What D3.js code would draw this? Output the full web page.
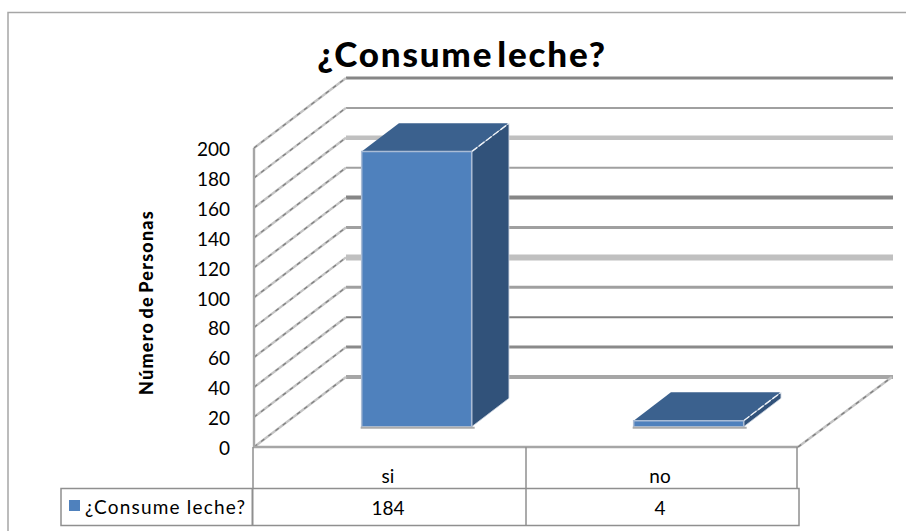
<!DOCTYPE html>
<html>
<head>
<meta charset="utf-8">
<style>
  body { margin: 0; background: #fff; }
  svg { display: block; font-family: Lato, "Open Sans", sans-serif; }
</style>
<script src="https://d3js.org/d3.v7.min.js"></script>
</head>
<body>
<svg width="906" height="531"></svg>
<script>
var categories = ["si", "no"];
var personas = [184, 4];
var yTicks = [0, 20, 40, 60, 80, 100, 120, 140, 160, 180, 200];
var seriesName = "¿Consume leche?";
var chartTitle = "¿Consume leche?";
var yTitle = "Número de Personas";

var svg = d3.select("svg");

var x = d3.scaleBand().domain(categories).range([254, 798]);
var y = d3.scaleLinear().domain([0, 200]).range([447, 148]);

// depth runs 0 (front of floor) to 1 (back wall)
var depthX = d3.scaleLinear().domain([0, 1]).range([0, 92]);
var depthY = d3.scaleLinear().domain([0, 1]).range([0, -70]);
var barFront = 0.29, barBack = 0.695, barWidth = 110;

function pt(px, py, d) { return [px + depthX(d), py + depthY(d)]; }
var poly = d3.line().curve(d3.curveLinearClosed);
var seg = d3.line();

// outer frame, only top and left show
svg.append("path").attr("d", seg([[8, 531], [8, 12.5], [906, 12.5]]))
  .attr("fill", "none").attr("stroke", "#a6a6a6").attr("stroke-width", 1.5);

svg.append("text").attr("x", 462).attr("y", 67).attr("text-anchor", "middle")
  .attr("font-size", 35).attr("font-weight", 900).attr("fill", "#000")
  .attr("letter-spacing", 1.8).attr("word-spacing", -6).text(chartTitle);

// back wall gridlines, weights vary from tick to tick
var gridColor = d3.scaleOrdinal().domain(yTicks)
  .range(["#a6a6a6", "#8a8a8a", "#808080", "#a0a0a0", "#c0c0c0", "#a0a0a0", "#868686", "#a0a0a0", "#c0c0c0", "#a0a0a0", "#868686"]);
var gridWidth = d3.scaleOrdinal().domain(yTicks)
  .range([4, 3, 2, 3, 6, 3, 4, 2, 4.5, 2, 3]);

function roughLine(g, d) {
  g.append("path").attr("d", d).attr("stroke", "#c4c4c4").attr("stroke-width", 2.4).attr("fill", "none");
  g.append("path").attr("d", d).attr("stroke", "#808080").attr("stroke-width", 1.3)
    .attr("stroke-dasharray", "4 5").attr("fill", "none");
}

var grid = svg.append("g");
yTicks.forEach(function(t) {
  var back = pt(254, y(t), 1);
  grid.append("path").attr("d", seg([back, [893, back[1]]]))
    .attr("stroke", gridColor(t)).attr("stroke-width", gridWidth(t)).attr("fill", "none");
  roughLine(grid, seg([[254, y(t)], back]));
});

// floor right edge
roughLine(grid, seg([[798, y(0)], [892, y(0) + depthY(1)]]));

// left wall and floor front edge
svg.append("path").attr("d", seg([[254, y(200)], [254, y(0)], [798, y(0)]]))
  .attr("fill", "none").attr("stroke", "#a6a6a6").attr("stroke-width", 2.4);

// 3d bars
var rows = categories.map(function(c, i) { return { cat: c, val: personas[i] }; });
var bars = svg.append("g").selectAll("g").data(rows).enter().append("g");

function corners(d) {
  var x0 = x(d.cat) + (x.bandwidth() - barWidth) / 2, x1 = x0 + barWidth;
  return { x0: x0, x1: x1, y0: y(0), y1: y(d.val) };
}
// y(v) is measured on the front plane, so lift base and top together
bars.append("path").attr("fill", "#3b618e").attr("d", function(d) {
  var c = corners(d);
  return poly([pt(c.x0, c.y1, barFront), pt(c.x1, c.y1, barFront), pt(c.x1, c.y1, barBack), pt(c.x0, c.y1, barBack)]);
});
bars.append("path").attr("fill", "#31527a").attr("stroke", "#c9d2de").attr("stroke-width", 0.8).attr("d", function(d) {
  var c = corners(d);
  return poly([pt(c.x1, c.y1, barFront), pt(c.x1, c.y1, barBack), pt(c.x1, c.y0, barBack), pt(c.x1, c.y0, barFront)]);
});
bars.append("path").attr("fill", "none").attr("stroke", "#eef2f7").attr("stroke-width", 1.4)
  .attr("stroke-dasharray", "7 2")
  .attr("d", function(d) {
    var c = corners(d);
    return seg([pt(c.x1, c.y1, barFront), pt(c.x1, c.y1, barBack)]);
  });
bars.append("path").attr("fill", "#4f81bd").attr("stroke", "#a9bcd6").attr("stroke-width", 1.5)
  .attr("d", function(d) {
    var c = corners(d);
    return poly([pt(c.x0, c.y1, barFront), pt(c.x1, c.y1, barFront), pt(c.x1, c.y0, barFront), pt(c.x0, c.y0, barFront)]);
  });
bars.append("path").attr("fill", "none").attr("stroke", "#ababab").attr("stroke-width", 2)
  .attr("d", function(d) {
    var c = corners(d);
    return seg([pt(c.x0 - 1, c.y0 + 1, barFront), pt(c.x1 + 3, c.y0 + 1, barFront)]);
  });

// y axis labels
var yAxis = svg.append("g").attr("transform", "translate(230,1.5)")
  .call(d3.axisLeft(y).tickValues(yTicks).tickSize(0).tickPadding(0));
yAxis.select(".domain").remove();
yAxis.selectAll("text").attr("font-family", "Lato").attr("font-size", 19).attr("fill", "#000");

svg.append("text").attr("transform", "translate(153,302.5) rotate(-90)")
  .attr("text-anchor", "middle").attr("font-size", 18).attr("font-weight", 900)
  .attr("letter-spacing", 1.2).attr("word-spacing", -2).text(yTitle);

// data table under the axis
var table = svg.append("g").attr("fill", "none").attr("stroke", "#8f8f8f").attr("stroke-width", 1.5);
var tableLines = [[x.range()[0] - 1, 447, 488], [x("no"), 447, 526], [x.range()[1] - 1, 447, 488]];
tableLines.forEach(function(v) { table.append("path").attr("d", seg([[v[0], v[1]], [v[0], v[2]]])); });
table.append("rect").attr("x", 61).attr("y", 488.5).attr("width", 738).attr("height", 37);
table.append("path").attr("d", seg([[252.5, 488], [252.5, 526]])).attr("stroke-width", 2);

svg.append("rect").attr("x", 69).attr("y", 500).attr("width", 11).attr("height", 11).attr("fill", "#4f81bd");
svg.append("text").attr("x", 85).attr("y", 514).attr("font-size", 19).attr("letter-spacing", 1.2).text(seriesName);

svg.append("g").selectAll("text").data(rows).enter().append("text")
  .attr("x", function(d) { return x(d.cat) + x.bandwidth() / 2 - 2; }).attr("y", 483)
  .attr("text-anchor", "middle").attr("font-size", 19).text(function(d) { return d.cat; });
svg.append("g").selectAll("text").data(rows).enter().append("text")
  .attr("x", function(d) { return x(d.cat) + x.bandwidth() / 2 - 2; }).attr("y", 515)
  .attr("text-anchor", "middle").attr("font-size", 19).text(function(d) { return d.val; });
</script>
</body>
</html>
